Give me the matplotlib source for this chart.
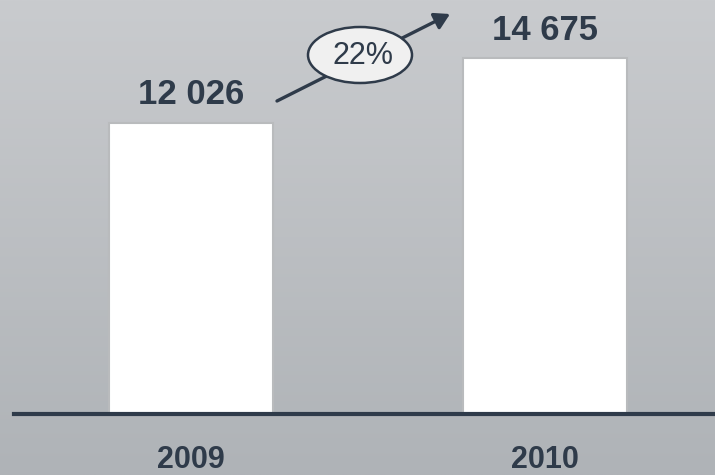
import numpy as np
import matplotlib
matplotlib.use("Agg")
import matplotlib.pyplot as plt
from matplotlib.patches import Ellipse, FancyArrowPatch

years = ["2009", "2010"]
values = [12026, 14675]
value_labels = ["12 026", "14 675"]
growth_label = "22%"

W, H = 715, 475
fig = plt.figure(figsize=(W / 100, H / 100), dpi=100)
FONT = "Liberation Sans"

# background gradient
bg = fig.add_axes([0, 0, 1, 1])
grad = np.linspace(0, 1, 256).reshape(256, 1, 1)
top = np.array([0xc9, 0xcb, 0xce]) / 255
bot = np.array([0xaf, 0xb3, 0xb7]) / 255
img = (top + (bot - top) * grad) * np.ones((1, 2, 1))
bg.imshow(img, aspect="auto", extent=[0, 1, 0, 1], origin="upper")
bg.axis("off")

dark = "#2f3b4a"

def fx(px):
    return px / W

def fy(py):
    return 1 - py / H

# main axes: axis line at y=414 px, spanning x 14..715
ax = fig.add_axes([fx(14), fy(414), fx(715) - fx(14), fy(0) - fy(414)])
ax.patch.set_alpha(0)
x = np.arange(len(years))
ax.bar(x, values, width=0.463, color="white", edgecolor="#b9bbbd", linewidth=1.5, zorder=2)
ax.set_xlim(-0.5, 1.48)
ax.set_ylim(0, 17080)
for s in ["top", "right", "left"]:
    ax.spines[s].set_visible(False)
ax.spines["bottom"].set_color(dark)
ax.spines["bottom"].set_linewidth(3)
ax.spines["bottom"].set_zorder(3)
ax.set_yticks([])
ax.set_xticks(x)
ax.set_xticklabels(years, fontsize=22, fontweight="bold", color=dark, family=FONT)
ax.tick_params(axis="x", length=0, pad=22)

for xi, v, lab in zip(x, values, value_labels):
    ax.annotate(lab, (xi, v), xytext=(0, 13), textcoords="offset points",
                ha="center", va="baseline", fontsize=25, fontweight="bold",
                color=dark, family=FONT)

# growth arrow and ellipse (figure pixel coordinates)
ov = fig.add_axes([0, 0, 1, 1])
ov.set_xlim(0, W)
ov.set_ylim(H, 0)
ov.axis("off")
arr = FancyArrowPatch((277, 101), (450, 14), arrowstyle="-|>,head_length=6,head_width=3.5",
                      color=dark, linewidth=2.4, mutation_scale=1.5, shrinkA=0, shrinkB=0)
ov.add_patch(arr)
ell = Ellipse((360, 55), 104, 56, facecolor="#f0f0f0", edgecolor=dark, linewidth=1.8)
ov.add_patch(ell)
ov.text(363, 56, growth_label, ha="center", va="center", fontsize=22,
        color=dark, family=FONT)

fig.savefig("out.png", dpi=100)
